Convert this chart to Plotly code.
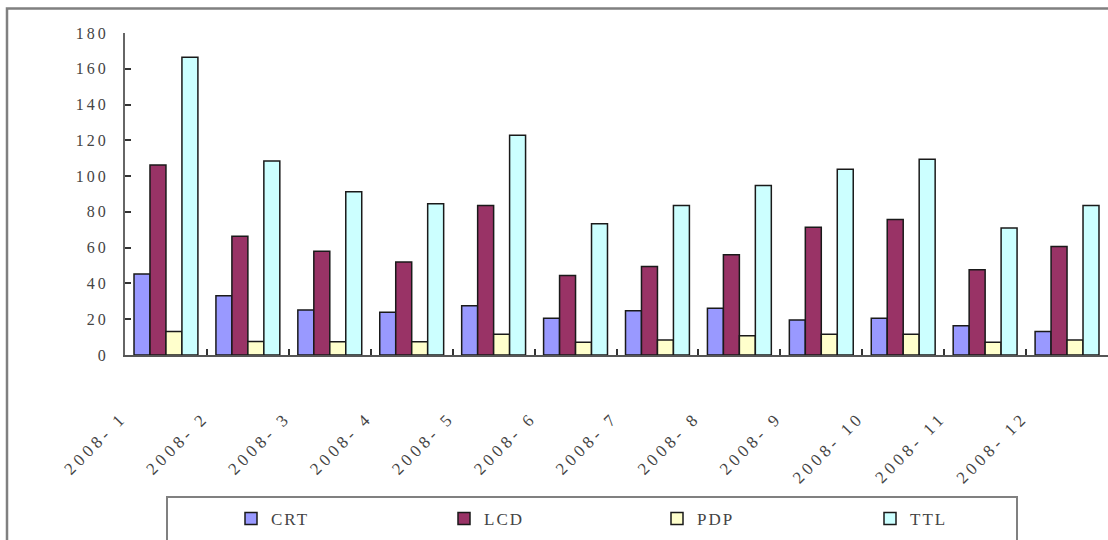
import plotly.graph_objects as go

# Monthly display panel volumes, 2008
months = ["2008- 1", "2008- 2", "2008- 3", "2008- 4", "2008- 5", "2008- 6",
          "2008- 7", "2008- 8", "2008- 9", "2008- 10", "2008- 11", "2008- 12"]
crt = [45.3, 33.1, 25.2, 23.9, 27.5, 20.6, 24.7, 26.2, 19.6, 20.6, 16.3, 13.1]
lcd = [106.2, 66.4, 58.0, 52.0, 83.6, 44.5, 49.5, 56.0, 71.4, 75.7, 47.7, 60.7]
pdp = [13.1, 7.5, 7.4, 7.4, 11.6, 7.1, 8.4, 10.7, 11.6, 11.6, 7.1, 8.4]
ttl = [166.4, 108.4, 91.2, 84.5, 122.8, 73.3, 83.6, 94.8, 103.8, 109.4, 71.0, 83.6]

series_names = ["CRT", "LCD", "PDP", "TTL"]
series_values = [crt, lcd, pdp, ttl]
series_colors = ["#9999FF", "#993366", "#FFFFCC", "#CCFFFF"]
y_ticks = [0, 20, 40, 60, 80, 100, 120, 140, 160, 180]

W, H = 1108, 540
ML, MR, MT, MB = 125, 0, 33, 185
PW, PH = W - ML - MR, H - MT - MB


def px_x(px):
    return (px - ML) / PW


def px_y(py):
    return (H - MB - py) / PH


serif = "Liberation Serif, Times New Roman, serif"
grey_txt = "#444444"

fig = go.Figure()
for name, vals, col in zip(series_names, series_values, series_colors):
    fig.add_trace(go.Bar(
        name=name, x=months, y=vals,
        marker=dict(color=col, line=dict(color="#1a1a1a", width=1.5)),
    ))

fig.update_layout(
    width=W, height=H,
    margin=dict(l=ML, r=MR, t=MT, b=MB),
    paper_bgcolor="white", plot_bgcolor="white",
    barmode="group", bargap=0.22, bargroupgap=0,
    showlegend=True,
    legend=dict(
        orientation="h", x=px_x(231), y=px_y(519),
        xanchor="left", yanchor="middle",
        entrywidth=168, entrywidthmode="pixels",
        bgcolor="rgba(0,0,0,0)", borderwidth=0,
        font=dict(family=serif, size=17, color=grey_txt),
        itemclick=False,
    ),
    xaxis=dict(
        type="category", categoryorder="array", categoryarray=months,
        showline=True, linecolor="#555555", linewidth=2,
        ticks="inside", tickson="boundaries", ticklen=6,
        tickcolor="#333333", tickwidth=2,
        tickangle=-45, ticklabelstandoff=44, ticklabelshift=-44,
        tickfont=dict(family=serif, size=17, color=grey_txt),
        showgrid=False, zeroline=False,
    ),
    yaxis=dict(
        range=[0, 180], tickvals=y_ticks,
        showline=True, linecolor="#666666", linewidth=2,
        ticks="inside", ticklen=6, tickcolor="#333333", tickwidth=2,
        ticklabelstandoff=11,
        tickfont=dict(family=serif, size=16, color=grey_txt),
        showgrid=False, zeroline=False,
    ),
    shapes=[
        # outer chart frame (right and bottom edges run off the canvas)
        dict(type="rect", xref="paper", yref="paper",
             x0=px_x(7), x1=px_x(1130), y0=px_y(8.5), y1=px_y(580),
             line=dict(color="#808080", width=2.5), layer="below"),
        # legend frame
        dict(type="rect", xref="paper", yref="paper",
             x0=px_x(167), x1=px_x(1017), y0=px_y(497), y1=px_y(580),
             line=dict(color="#808080", width=2), layer="below"),
    ],
)

spacing_css = (
    "var s=document.createElement('style');"
    "s.textContent='.ytick text{letter-spacing:3px}"
    " .xtick text{letter-spacing:4px} .legendtext{letter-spacing:2px}';"
    "document.head.appendChild(s);"
)

fig.write_html("out.html", post_script=spacing_css)
